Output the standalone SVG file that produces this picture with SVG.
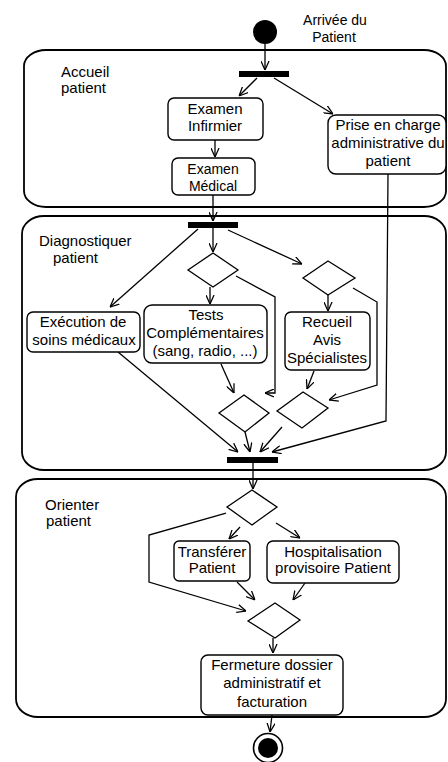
<svg xmlns="http://www.w3.org/2000/svg" width="448" height="762" viewBox="0 0 448 762">
<style>
text{font-family:"Liberation Sans",Arial,sans-serif;font-size:15px;fill:#000}
.c{text-anchor:middle}
.s{font-size:14px}
.lane{fill:none;stroke:#000;stroke-width:1.8}
.box{fill:#fff;stroke:#000;stroke-width:1.4}
.dec{fill:#fff;stroke:#000;stroke-width:1.3}
.bar{fill:#000}
.e{fill:none;stroke:#000;stroke-width:1.3;marker-end:url(#arr)}
</style>
<defs>
<marker id="arr" viewBox="0 0 10 10" refX="10" refY="5" markerWidth="9" markerHeight="9" markerUnits="userSpaceOnUse" orient="auto">
<path d="M0,0.5 L10,5 L0,9.5" fill="none" stroke="#000" stroke-width="1.4"/>
</marker>
</defs>
<rect width="448" height="762" fill="#fff"/>
<g id="lanes">
<g id="lane-accueil"><rect class="lane" x="24" y="50" width="422" height="157" rx="22" ry="16"/><text x="61" y="77">Accueil</text><text x="61" y="93">patient</text></g>
<g id="lane-diagnostiquer"><rect class="lane" x="22" y="216" width="424" height="254" rx="22" ry="18"/><text x="39" y="246">Diagnostiquer</text><text x="53" y="263">patient</text></g>
<g id="lane-orienter"><rect class="lane" x="16" y="479" width="430" height="238" rx="22" ry="18"/><text x="45" y="510">Orienter</text><text x="46" y="526">patient</text></g>
</g>
<g id="connectors">
<line class="e" x1="265" y1="44" x2="265" y2="70"/>
<line class="e" x1="257" y1="78" x2="239" y2="96"/>
<line class="e" x1="274" y1="78" x2="333" y2="114"/>
<line class="e" x1="215" y1="140" x2="215" y2="157"/>
<line class="e" x1="213" y1="195" x2="213" y2="221"/>
<line class="e" x1="213" y1="228" x2="213" y2="252"/>
<line class="e" x1="198" y1="229" x2="110" y2="307"/>
<line class="e" x1="228" y1="230" x2="302" y2="264"/>
<line class="e" x1="210" y1="287" x2="210" y2="304"/>
<polyline class="e" points="236,276 275,297 275,393 265,393"/>
<line class="e" x1="328" y1="295" x2="328" y2="311"/>
<polyline class="e" points="353,288 377,302 377,385 329,400"/>
<line class="e" x1="118" y1="352" x2="238" y2="452"/>
<line class="e" x1="221" y1="364" x2="234" y2="393"/>
<line class="e" x1="314" y1="371" x2="307" y2="389"/>
<polyline class="e" points="245,432 247,440 250,452"/>
<line class="e" x1="282" y1="427" x2="260" y2="452"/>
<polyline class="e" points="388,174 386,421 272,452"/>
<line class="e" x1="253" y1="463" x2="253" y2="489"/>
<polyline class="e" points="226,513 149,535 149,582 246,611"/>
<line class="e" x1="240" y1="527" x2="229" y2="539"/>
<line class="e" x1="276" y1="523" x2="300" y2="538"/>
<line class="e" x1="237" y1="582" x2="255" y2="600"/>
<line class="e" x1="305" y1="583" x2="293" y2="600"/>
<line class="e" x1="273" y1="638" x2="273" y2="653"/>
<line class="e" x1="272" y1="715" x2="270" y2="732"/>
</g>
<g id="start"><circle cx="265" cy="32" r="12" fill="#000"/><text class="c s" x="335" y="25">Arrivée du</text><text class="c s" x="334" y="42">Patient</text></g>
<g id="fork1"><rect class="bar" x="239" y="71" width="50" height="6"/></g>
<g id="examen-infirmier"><rect class="box" x="168" y="98" width="95" height="42" rx="6"/><text class="c" x="215" y="114">Examen</text><text class="c" x="215" y="131">Infirmier</text></g>
<g id="prise-en-charge"><rect class="box" x="328" y="115" width="118" height="59" rx="8"/><text class="c" x="388" y="130">Prise en charge</text><text class="c" x="388" y="148">administrative du</text><text class="c" x="388" y="166">patient</text></g>
<g id="examen-medical"><rect class="box" x="172" y="158" width="83" height="37" rx="6"/><text class="c s" x="213" y="174">Examen</text><text class="c s" x="213" y="191">Médical</text></g>
<g id="fork2"><rect class="bar" x="188" y="222" width="50" height="6"/></g>
<g id="d1"><polygon class="dec" points="213,253 238,270 213,287 188,270"/></g>
<g id="d2"><polygon class="dec" points="328,261 355,278 328,295 303,278"/></g>
<g id="execution-soins"><rect class="box" x="27" y="312" width="113" height="40" rx="6"/><text class="c" x="83" y="327">Exécution de</text><text class="c" x="84" y="345">soins médicaux</text></g>
<g id="tests"><rect class="box" x="144" y="305" width="123" height="58" rx="8"/><text class="c" x="206" y="320">Tests</text><text class="c" x="205" y="338">Complémentaires</text><text class="c" x="205" y="356">(sang, radio, ...)</text></g>
<g id="recueil-avis"><rect class="box" x="285" y="312" width="85" height="58" rx="6"/><text class="c" x="327" y="327">Recueil</text><text class="c" x="327" y="345">Avis</text><text class="c" x="327" y="363">Spécialistes</text></g>
<g id="d3"><polygon class="dec" points="244,395 269,413 245,432 219,413"/></g>
<g id="d4"><polygon class="dec" points="303,392 328,408 302,428 277,411"/></g>
<g id="join"><rect class="bar" x="227" y="457" width="51" height="6"/></g>
<g id="d5"><polygon class="dec" points="252,490 277,507 252,525 227,507"/></g>
<g id="transferer"><rect class="box" x="174" y="541" width="76" height="40" rx="5"/><text class="c" x="212" y="557">Transférer</text><text class="c" x="212" y="573">Patient</text></g>
<g id="hospitalisation"><rect class="box" x="267" y="541" width="132" height="42" rx="6"/><text class="c" x="333" y="557">Hospitalisation</text><text class="c" x="333" y="573">provisoire Patient</text></g>
<g id="d6"><polygon class="dec" points="275,603 300,620 275,638 248,621"/></g>
<g id="fermeture"><rect class="box" x="201" y="655" width="142" height="60" rx="7"/><text class="c" x="272" y="670">Fermeture dossier</text><text class="c" x="272" y="688">administratif et</text><text class="c" x="272" y="707">facturation</text></g>
<g id="end"><circle cx="268" cy="748" r="14.5" fill="#fff" stroke="#000" stroke-width="1.6"/><circle cx="268" cy="748" r="10" fill="#000"/></g>
</svg>
